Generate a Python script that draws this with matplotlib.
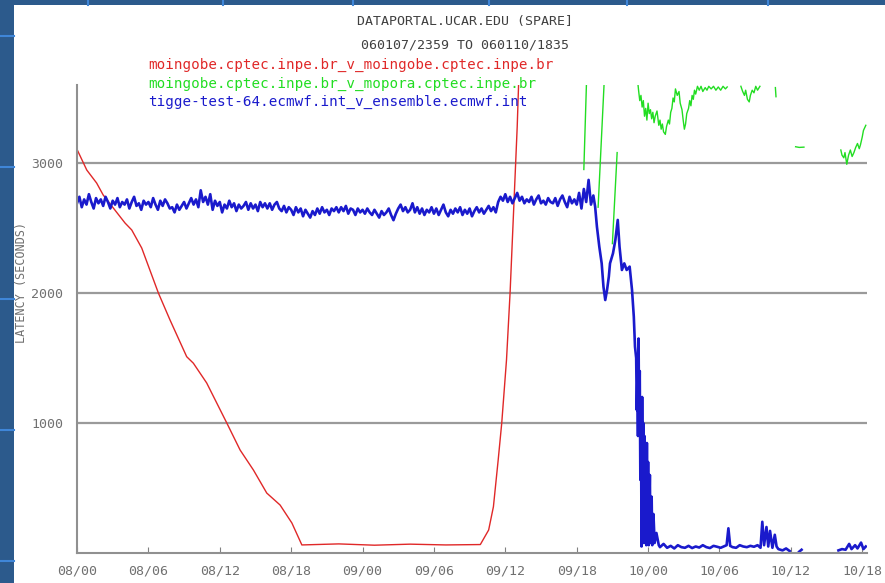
" dataportal latency chart "
import numpy as np
import matplotlib
matplotlib.use('Agg')
import matplotlib.pyplot as plt
from matplotlib.patches import Rectangle
from matplotlib.lines import Line2D

W, H = 885, 583

# hours after 08/00
X_TICKS = [0, 6, 12, 18, 24, 30, 36, 42, 48, 54, 60, 66]
X_LABELS = ['08/00', '08/06', '08/12', '08/18', '09/00', '09/06',
            '09/12', '09/18', '10/00', '10/06', '10/12', '10/18']
Y_TICKS = [1000, 2000, 3000]

TITLE_1 = 'DATAPORTAL.UCAR.EDU (SPARE]'
TITLE_2 = '060107/2359 TO 060110/1835'
NAMES = ['moingobe.cptec.inpe.br_v_moingobe.cptec.inpe.br',
         'moingobe.cptec.inpe.br_v_mopora.cptec.inpe.br',
         'tigge-test-64.ecmwf.int_v_ensemble.ecmwf.int']
COLORS = ['#e02828', '#22dd22', '#1a1acc']

# moingobe -> moingobe
red_t = [0, 0.82, 1.65, 2.2, 3.05, 4.04, 4.6, 5.44, 6.84, 7.82, 9.22, 9.78,
         10.9, 12.59, 13.71, 14.83, 15.95, 17.07, 18.06, 18.9, 22, 25, 28,
         31, 33.9, 34.6, 35.0, 35.4, 35.7, 36.1, 36.4, 36.7, 37.0, 37.15]
red_v = [3105, 2946, 2846, 2754, 2654, 2538, 2485, 2346, 2000, 1792, 1510, 1460,
         1308, 1000, 792, 638, 461, 369, 231, 62, 70, 60, 68,
         62, 65, 177, 356, 715, 1000, 1485, 2000, 2638, 3280, 3700]

# moingobe -> mopora (nan = no data)
green_t = [42.6, 42.85, np.nan, 43.8, 44.35, np.nan, 45.0, 45.4, np.nan,
           47.1, 47.2, 47.3, 47.4, 47.5, 47.6, 47.7, 47.8, 47.9, 48.0, 48.1,
           48.2, 48.3, 48.4, 48.5, 48.6, 48.75, 48.9, 49.0, 49.1, 49.2, 49.3,
           49.45, 49.55, 49.7, 49.8, 49.9, 50.0, 50.1, 50.2, 50.3, 50.45, 50.6,
           50.7, 50.85, 50.95, 51.05, 51.15, 51.25, 51.4, 51.5, 51.6, 51.7,
           51.8, 51.9, 52.0, 52.15, 52.3, 52.45, 52.6, 52.8, 52.95, 53.1, 53.3,
           53.5, 53.7, 53.9, 54.1, 54.3, 54.5, 54.65, np.nan,
           55.8, 55.95, 56.1, 56.2, 56.35, 56.5, 56.6, 56.75, 56.9, 57.05,
           57.2, 57.4, np.nan, 58.7, 58.75, np.nan, 60.4, 60.7, 61.1, np.nan,
           64.2, 64.3, 64.45, 64.55, 64.7, 64.85, 65.0, 65.15, 65.3, 65.45,
           65.6, 65.75, 65.85, 66.0, 66.1, 66.3]
green_v = [2950, 3700, np.nan, 2660, 3700, np.nan, 2380, 3080, np.nan,
           3650, 3560, 3480, 3520, 3430, 3480, 3360, 3420, 3330, 3460, 3380,
           3410, 3340, 3390, 3310, 3360, 3400, 3290, 3330, 3260, 3300, 3240,
           3220, 3280, 3330, 3300, 3390, 3420, 3500, 3470, 3570, 3520, 3550,
           3460, 3410, 3330, 3260, 3300, 3380, 3420, 3480, 3440, 3520,
           3490, 3560, 3530, 3590, 3560, 3590, 3550, 3580, 3560, 3590, 3570,
           3590, 3560, 3585, 3560, 3590, 3570, 3585, np.nan,
           3590, 3550, 3520, 3560, 3490, 3470, 3520, 3560, 3540, 3590,
           3560, 3590, np.nan, 3580, 3510, np.nan, 3125, 3120, 3122, np.nan,
           3100, 3060, 3040, 3080, 2990, 3060, 3100, 3050, 3080, 3120,
           3150, 3110, 3140, 3200, 3250, 3290]

# tigge-test-64 -> ensemble, sampled every 0.2 h from 08/00 to 43.4 h
blue_step = 0.2
blue_plateau = [
    2690, 2740, 2660, 2720, 2680, 2760, 2700, 2650, 2730, 2690,
    2720, 2670, 2740, 2700, 2650, 2710, 2680, 2730, 2660, 2700,
    2680, 2720, 2650, 2700, 2740, 2670, 2690, 2640, 2710, 2680,
    2700, 2660, 2730, 2680, 2640, 2710, 2670, 2720, 2690, 2650,
    2660, 2620, 2680, 2640, 2670, 2700, 2650, 2690, 2730, 2680,
    2720, 2660, 2790, 2700, 2740, 2680, 2760, 2640, 2710, 2670,
    2700, 2620, 2680, 2650, 2710, 2660, 2690, 2630, 2680, 2650,
    2670, 2700, 2640, 2690, 2650, 2680, 2630, 2700, 2660, 2690,
    2650, 2690, 2640, 2680, 2700, 2650, 2630, 2670, 2620, 2660,
    2640, 2600, 2660, 2620, 2650, 2590, 2640, 2610, 2580, 2630,
    2600, 2650, 2610, 2660, 2620, 2640, 2600, 2650, 2630, 2660,
    2620, 2660, 2630, 2670, 2610, 2650, 2640, 2600, 2650, 2620,
    2640, 2610, 2650, 2620, 2600, 2640, 2610, 2580, 2630, 2600,
    2620, 2650, 2600, 2560, 2610, 2650, 2680, 2630, 2660, 2620,
    2640, 2690, 2620, 2660, 2610, 2650, 2600, 2640, 2620, 2660,
    2610, 2650, 2600, 2640, 2680, 2620, 2590, 2640, 2610, 2650,
    2620, 2660, 2600, 2640, 2610, 2650, 2590, 2630, 2660, 2620,
    2650, 2610, 2640, 2670, 2630, 2660, 2620, 2700, 2740, 2710,
    2760, 2700, 2740, 2690, 2730, 2770, 2710, 2740, 2690, 2720,
    2700, 2740, 2680, 2720, 2750, 2690, 2710, 2680, 2730, 2700,
    2690, 2730, 2670, 2720, 2750, 2700, 2660, 2740, 2690, 2720,
    2680, 2770, 2650, 2800, 2700, 2870, 2680, 2750]
blue_t_tail = [43.55, 43.7, 43.9, 44.1, 44.25, 44.4, 44.55, 44.7, 44.8, 45.05,
               45.25, 45.45, 45.6, 45.8, 46.0, 46.2, 46.45, 46.65, 46.8, 46.9,
               47.0, 47.05, 47.1, 47.15, 47.2, 47.25, 47.3, 47.35, 47.4, 47.45,
               47.5, 47.55, 47.6, 47.65, 47.7, 47.75, 47.8, 47.85, 47.9, 47.95,
               48.0, 48.05, 48.15, 48.2, 48.3, 48.35, 48.45, 48.55, 48.7, 48.9,
               49.0, 49.3, 49.6, 49.9, 50.2, 50.5, 50.8, 51.1, 51.4, 51.7,
               52.0, 52.3, 52.6, 52.9, 53.2, 53.5, 53.8, 54.1, 54.4, 54.6,
               54.75, 54.9, 55.1, 55.4, 55.7, 56.0, 56.3, 56.6, 56.9, 57.2,
               57.45, 57.6, 57.75, 57.95, 58.1, 58.25, 58.45, 58.65, 58.8, 58.95,
               59.3, 59.6, 59.9, np.nan, 60.7, 60.9, np.nan,
               64.0, 64.3, 64.6, 64.9, 65.1, 65.4, 65.6, 65.9, 66.1, 66.3]
blue_v_tail = [2664, 2510, 2356, 2228, 2048, 1946, 2023, 2125, 2228, 2305,
               2408, 2562, 2356, 2177, 2228, 2177, 2203, 2023, 1818, 1587,
               1500, 1100, 1331, 900, 1650, 946, 1400, 562, 1100, 50,
               1200, 300, 1000, 77, 900, 200, 562, 60, 846, 77,
               700, 60, 600, 77, 433, 60, 300, 77, 154, 60,
               45, 70, 40, 55, 35, 60, 45, 40, 55, 38,
               50, 42, 60, 45, 38, 55, 48, 40, 52, 60,
               190, 55, 45, 40, 60, 50, 45, 55, 48, 60,
               40, 240, 60, 200, 50, 170, 40, 140, 50, 30,
               20, 35, 15, np.nan, 10, 25, np.nan,
               20, 30, 25, 70, 30, 60, 35, 80, 30, 50]

blue_t = list(np.arange(len(blue_plateau)) * blue_step) + blue_t_tail
blue_v = blue_plateau + blue_v_tail

fig = plt.figure(figsize=(W / 100, H / 100), dpi=100, facecolor='#2c5a8c')

# slide background: blue frame with a white panel
fig.patches.append(Rectangle((14 / W, 0), 1 - 14 / W, 1 - 5 / H, transform=fig.transFigure,
                             facecolor='white', edgecolor='none', zorder=-10))
for yy in [36, 167, 299, 430, 561]:
    fig.lines.append(Line2D([0, 14 / W], [1 - yy / H] * 2, transform=fig.transFigure,
                            color='#3f86d8', lw=1.5, zorder=-5))
for xx in [88, 223, 353, 489, 627, 768]:
    fig.lines.append(Line2D([xx / W] * 2, [1, 1 - 5 / H], transform=fig.transFigure,
                            color='#3f86d8', lw=1.5, zorder=-5))

ax = fig.add_axes([77 / W, 1 - 553 / H, (867 - 77) / W, (553 - 85) / H])
ax.set_facecolor('white')

ax.plot(red_t, red_v, color=COLORS[0], lw=1.0)
ax.plot(green_t, green_v, color=COLORS[1], lw=1.0)
ax.plot(blue_t, blue_v, color=COLORS[2], lw=1.9)

ax.set_xlim(0, 66.4)
ax.set_ylim(0, 3600)
for v in Y_TICKS:
    ax.axhline(v, color='#9a9a9a', lw=1.6, zorder=0)

ax.set_xticks(X_TICKS)
ax.set_xticklabels(X_LABELS, family='DejaVu Sans Mono', fontsize=9.5, color='#707070')
ax.set_yticks(Y_TICKS)
ax.set_yticklabels([str(v) for v in Y_TICKS], family='DejaVu Sans Mono', fontsize=9.5,
                   color='#707070')
ax.tick_params(axis='x', direction='in', length=4, color='#808080', pad=8)
ax.tick_params(axis='y', length=0, pad=10)
for s in ['top', 'right']:
    ax.spines[s].set_visible(False)
for s in ['left', 'bottom']:
    ax.spines[s].set_color('#909090')
    ax.spines[s].set_linewidth(1.5)

fig.text(22 / W, 1 - 282 / H, 'LATENCY (SECONDS)', rotation=90, ha='center', va='center',
         family='DejaVu Sans Mono', fontsize=8.5, color='#707070')
fig.text(465 / W, 1 - 21 / H, TITLE_1, ha='center', va='center',
         family='DejaVu Sans Mono', fontsize=9.5, color='#404040')
fig.text(465 / W, 1 - 45 / H, TITLE_2, ha='center', va='center',
         family='DejaVu Sans Mono', fontsize=9.5, color='#404040')
for i, (name, c) in enumerate(zip(NAMES, COLORS)):
    fig.text(148 / W, 1 - [65, 84, 102][i] / H, name, ha='left', va='center',
             family='DejaVu Sans Mono', fontsize=10.3, color=c)

fig.savefig('out.png', dpi=100, facecolor=fig.get_facecolor())
